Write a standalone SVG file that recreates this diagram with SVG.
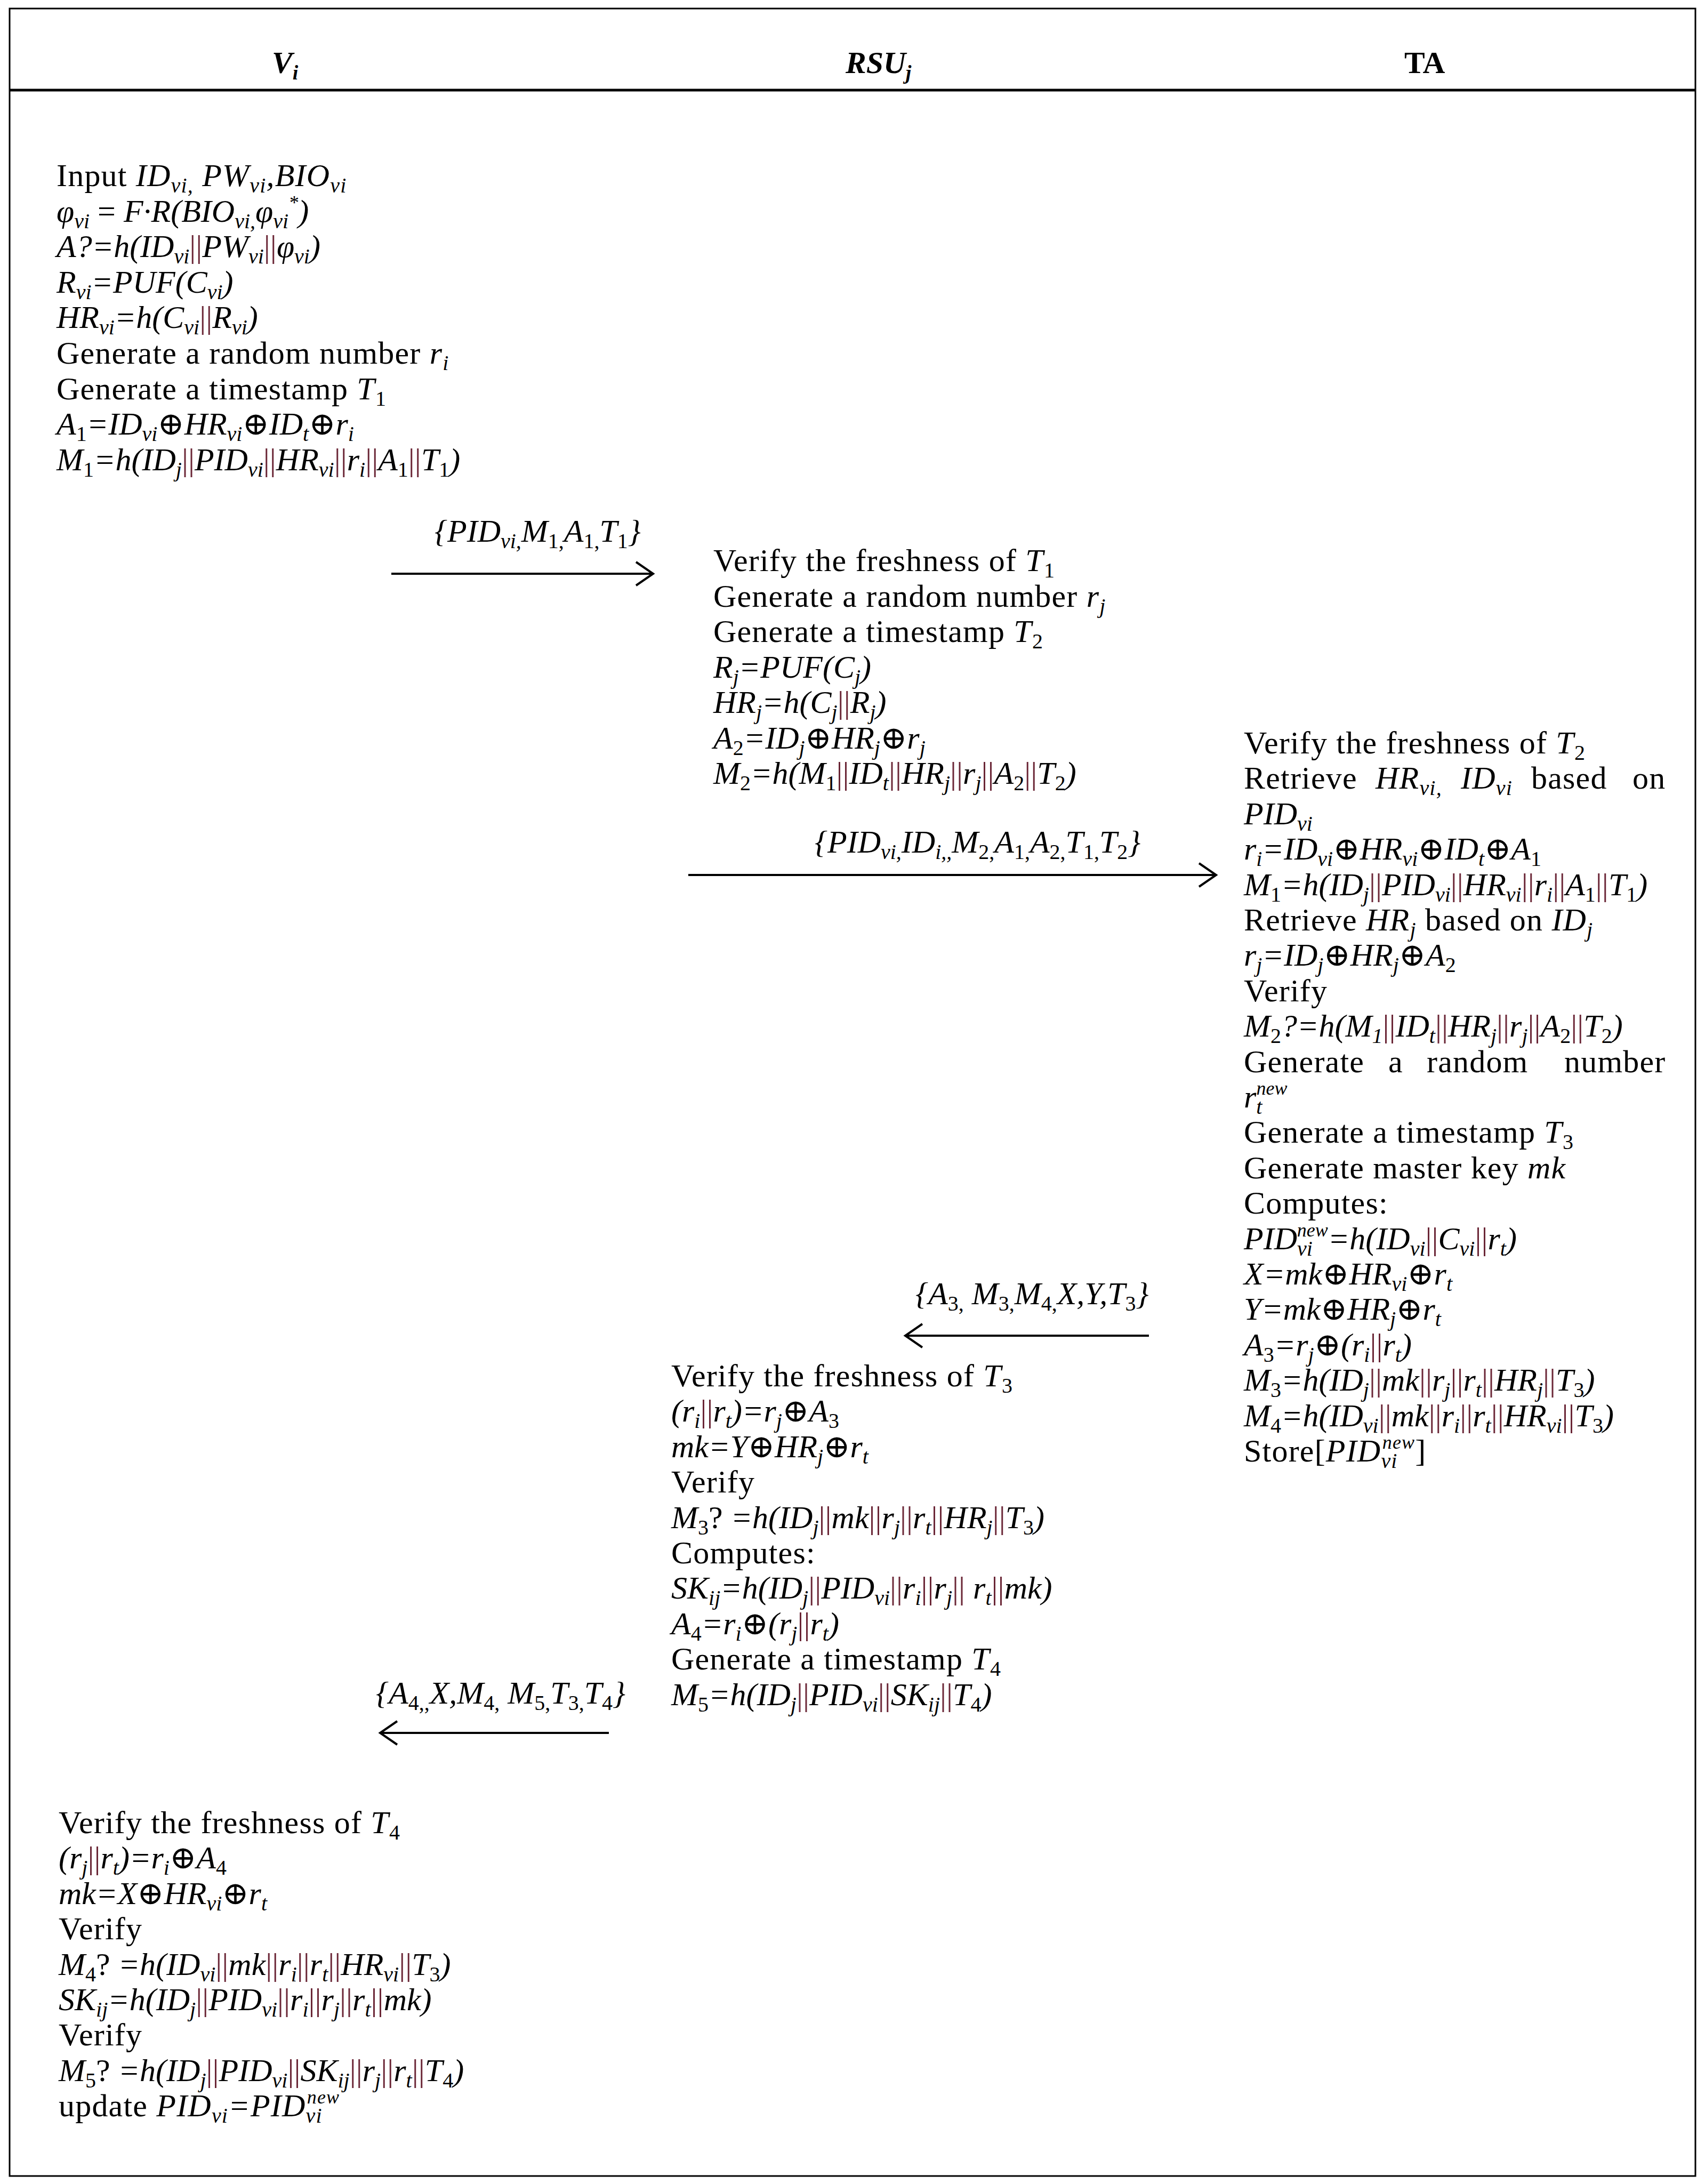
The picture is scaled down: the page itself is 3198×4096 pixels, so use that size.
<svg xmlns="http://www.w3.org/2000/svg" width="3198" height="4096" viewBox="0 0 3198 4096">
<style>
text { font-family: "Liberation Serif","DejaVu Serif",serif; font-size: 60px; fill: #000; letter-spacing: 1.2px; }
text.i { letter-spacing: 0; }
.i { font-style: italic; }
.s { font-size: 40px; font-style: italic; baseline-shift: -12px; }
.n { font-size: 40px; font-style: normal; baseline-shift: -12px; }
.p { font-size: 36px; font-style: italic; baseline-shift: 24px; }
.b { fill: #6b2737; font-style: normal; }
.o { font-style: normal; }
.h { font-size: 58px; font-weight: bold; letter-spacing: 0; }
.frame { fill: none; stroke: #000; stroke-width: 3; }
.hline { stroke: #000; stroke-width: 5; }
.arrow { stroke: #000; stroke-width: 4; fill: none; marker-end: url(#chev); }
</style>
<defs>
<marker id="chev" markerUnits="userSpaceOnUse" markerWidth="40" markerHeight="52" refX="34" refY="26" orient="auto">
<path d="M2,4 L34,26 L2,48" fill="none" stroke="#000" stroke-width="4"/>
</marker>
</defs>
<rect width="3198" height="4096" fill="#fff"/>

<g id="frame">
<rect class="frame" x="18" y="16" width="3162" height="4065"/>
<line class="hline" x1="18" y1="169" x2="3180" y2="169"/>
</g>

<g id="header">
<text class="h i" x="510" y="137">V<tspan class="s" style="font-size:38px;font-weight:bold">i</tspan></text>
<text class="h i" x="1586" y="137">RSU<tspan class="s" style="font-size:38px;font-weight:bold">j</tspan></text>
<text class="h" x="2634" y="137">TA</text>
</g>

<g id="node-vi-1">
<text x="106" y="349">Input <tspan class="i">ID</tspan><tspan class="s">vi,</tspan> <tspan class="i">PW</tspan><tspan class="s">vi</tspan><tspan class="i">,BIO</tspan><tspan class="s">vi</tspan></text>
<text class="i" x="106" y="416">φ<tspan class="s">vi</tspan><tspan class="o"> = </tspan>F·R(BIO<tspan class="s">vi,</tspan>φ<tspan class="s">vi</tspan><tspan class="p">*</tspan>)</text>
<text class="i" x="106" y="482">A?=h(ID<tspan class="s">vi</tspan><tspan class="b">||</tspan>PW<tspan class="s">vi</tspan><tspan class="b">||</tspan>φ<tspan class="s">vi</tspan>)</text>
<text class="i" x="106" y="549">R<tspan class="s">vi</tspan>=PUF(C<tspan class="s">vi</tspan>)</text>
<text class="i" x="106" y="615">HR<tspan class="s">vi</tspan>=h(C<tspan class="s">vi</tspan><tspan class="b">||</tspan>R<tspan class="s">vi</tspan>)</text>
<text x="106" y="682">Generate a random number <tspan class="i">r</tspan><tspan class="s">i</tspan></text>
<text x="106" y="749">Generate a timestamp <tspan class="i">T</tspan><tspan class="n">1</tspan></text>
<text class="i" x="106" y="815">A<tspan class="n">1</tspan>=ID<tspan class="s">vi</tspan><tspan class="o">⊕</tspan>HR<tspan class="s">vi</tspan><tspan class="o">⊕</tspan>ID<tspan class="s">t</tspan><tspan class="o">⊕</tspan>r<tspan class="s">i</tspan></text>
<text class="i" x="106" y="882">M<tspan class="n">1</tspan>=h(ID<tspan class="s">j</tspan><tspan class="b">||</tspan>PID<tspan class="s">vi</tspan><tspan class="b">||</tspan>HR<tspan class="s">vi</tspan><tspan class="b">||</tspan>r<tspan class="s">i</tspan><tspan class="b">||</tspan>A<tspan class="n">1</tspan><tspan class="b">||</tspan>T<tspan class="n">1</tspan>)</text>
</g>

<g id="node-rsu-1">
<text x="1338" y="1071">Verify the freshness of <tspan class="i">T</tspan><tspan class="n">1</tspan></text>
<text x="1338" y="1138">Generate a random number <tspan class="i">r</tspan><tspan class="s">j</tspan></text>
<text x="1338" y="1204">Generate a timestamp <tspan class="i">T</tspan><tspan class="n">2</tspan></text>
<text class="i" x="1338" y="1271">R<tspan class="s">j</tspan>=PUF(C<tspan class="s">j</tspan>)</text>
<text class="i" x="1338" y="1337">HR<tspan class="s">j</tspan>=h(C<tspan class="s">j</tspan><tspan class="b">||</tspan>R<tspan class="s">j</tspan>)</text>
<text class="i" x="1338" y="1404">A<tspan class="n">2</tspan>=ID<tspan class="s">j</tspan><tspan class="o">⊕</tspan>HR<tspan class="s">j</tspan><tspan class="o">⊕</tspan>r<tspan class="s">j</tspan></text>
<text class="i" x="1338" y="1470">M<tspan class="n">2</tspan>=h(M<tspan class="n">1</tspan><tspan class="b">||</tspan>ID<tspan class="s">t</tspan><tspan class="b">||</tspan>HR<tspan class="s">j</tspan><tspan class="b">||</tspan>r<tspan class="s">j</tspan><tspan class="b">||</tspan>A<tspan class="n">2</tspan><tspan class="b">||</tspan>T<tspan class="n">2</tspan>)</text>
</g>

<g id="node-ta">
<text x="2333" y="1413">Verify the freshness of <tspan class="i">T</tspan><tspan class="n">2</tspan></text>
<text y="1479"><tspan x="2333">Retrieve</tspan><tspan class="i" x="2580">HR</tspan><tspan class="s">vi,</tspan><tspan class="i" x="2740">ID</tspan><tspan class="s">vi</tspan><tspan x="2872">based</tspan><tspan x="3062">on</tspan></text>
<text class="i" x="2333" y="1546">PID<tspan class="s">vi</tspan></text>
<text class="i" x="2333" y="1612">r<tspan class="s">i</tspan>=ID<tspan class="s">vi</tspan><tspan class="o">⊕</tspan>HR<tspan class="s">vi</tspan><tspan class="o">⊕</tspan>ID<tspan class="s">t</tspan><tspan class="o">⊕</tspan>A<tspan class="n">1</tspan></text>
<text class="i" x="2333" y="1679">M<tspan class="n">1</tspan>=h(ID<tspan class="s">j</tspan><tspan class="b">||</tspan>PID<tspan class="s">vi</tspan><tspan class="b">||</tspan>HR<tspan class="s">vi</tspan><tspan class="b">||</tspan>r<tspan class="s">i</tspan><tspan class="b">||</tspan>A<tspan class="n">1</tspan><tspan class="b">||</tspan>T<tspan class="n">1</tspan>)</text>
<text x="2333" y="1745">Retrieve <tspan class="i">HR</tspan><tspan class="s">j</tspan> based on <tspan class="i">ID</tspan><tspan class="s">j</tspan></text>
<text class="i" x="2333" y="1811">r<tspan class="s">j</tspan>=ID<tspan class="s">j</tspan><tspan class="o">⊕</tspan>HR<tspan class="s">j</tspan><tspan class="o">⊕</tspan>A<tspan class="n">2</tspan></text>
<text x="2333" y="1878">Verify</text>
<text class="i" x="2333" y="1944">M<tspan class="n">2</tspan>?=h(M<tspan class="s">1</tspan><tspan class="b">||</tspan>ID<tspan class="s">t</tspan><tspan class="b">||</tspan>HR<tspan class="s">j</tspan><tspan class="b">||</tspan>r<tspan class="s">j</tspan><tspan class="b">||</tspan>A<tspan class="n">2</tspan><tspan class="b">||</tspan>T<tspan class="n">2</tspan>)</text>
<text y="2011"><tspan x="2333">Generate</tspan><tspan x="2604">a</tspan><tspan x="2676">random</tspan><tspan x="2934">number</tspan></text>
<text class="i" x="2333" y="2077">r<tspan class="s">t</tspan><tspan class="p" dx="-11">new</tspan></text>
<text x="2333" y="2143">Generate a timestamp <tspan class="i">T</tspan><tspan class="n">3</tspan></text>
<text x="2333" y="2210">Generate master key <tspan class="i">mk</tspan></text>
<text x="2333" y="2276">Computes:</text>
<text class="i" x="2333" y="2343">PID<tspan class="s">vi</tspan><tspan class="p" dx="-29">new</tspan>=h(ID<tspan class="s">vi</tspan><tspan class="b">||</tspan>C<tspan class="s">vi</tspan><tspan class="b">||</tspan>r<tspan class="s">t</tspan>)</text>
<text class="i" x="2333" y="2409">X=mk<tspan class="o">⊕</tspan>HR<tspan class="s">vi</tspan><tspan class="o">⊕</tspan>r<tspan class="s">t</tspan></text>
<text class="i" x="2333" y="2475">Y=mk<tspan class="o">⊕</tspan>HR<tspan class="s">j</tspan><tspan class="o">⊕</tspan>r<tspan class="s">t</tspan></text>
<text class="i" x="2333" y="2542">A<tspan class="n">3</tspan>=r<tspan class="s">j</tspan><tspan class="o">⊕</tspan>(r<tspan class="s">i</tspan><tspan class="b">||</tspan>r<tspan class="s">t</tspan>)</text>
<text class="i" x="2333" y="2608">M<tspan class="n">3</tspan>=h(ID<tspan class="s">j</tspan><tspan class="b">||</tspan>mk<tspan class="b">||</tspan>r<tspan class="s">j</tspan><tspan class="b">||</tspan>r<tspan class="s">t</tspan><tspan class="b">||</tspan>HR<tspan class="s">j</tspan><tspan class="b">||</tspan>T<tspan class="n">3</tspan>)</text>
<text class="i" x="2333" y="2675">M<tspan class="n">4</tspan>=h(ID<tspan class="s">vi</tspan><tspan class="b">||</tspan>mk<tspan class="b">||</tspan>r<tspan class="s">i</tspan><tspan class="b">||</tspan>r<tspan class="s">t</tspan><tspan class="b">||</tspan>HR<tspan class="s">vi</tspan><tspan class="b">||</tspan>T<tspan class="n">3</tspan>)</text>
<text x="2333" y="2741">Store[<tspan class="i">PID</tspan><tspan class="s">vi</tspan><tspan class="p" dx="-29">new</tspan>]</text>
</g>

<g id="node-rsu-2">
<text x="1259" y="2600">Verify the freshness of <tspan class="i">T</tspan><tspan class="n">3</tspan></text>
<text class="i" x="1259" y="2666">(r<tspan class="s">i</tspan><tspan class="b">||</tspan>r<tspan class="s">t</tspan>)=r<tspan class="s">j</tspan><tspan class="o">⊕</tspan>A<tspan class="n">3</tspan></text>
<text class="i" x="1259" y="2733">mk=Y<tspan class="o">⊕</tspan>HR<tspan class="s">j</tspan><tspan class="o">⊕</tspan>r<tspan class="s">t</tspan></text>
<text x="1259" y="2799">Verify</text>
<text class="i" x="1259" y="2866">M<tspan class="n">3</tspan><tspan class="o">? </tspan>=h(ID<tspan class="s">j</tspan><tspan class="b">||</tspan>mk<tspan class="b">||</tspan>r<tspan class="s">j</tspan><tspan class="b">||</tspan>r<tspan class="s">t</tspan><tspan class="b">||</tspan>HR<tspan class="s">j</tspan><tspan class="b">||</tspan>T<tspan class="n">3</tspan>)</text>
<text x="1259" y="2932">Computes:</text>
<text class="i" x="1259" y="2998">SK<tspan class="s">ij</tspan>=h(ID<tspan class="s">j</tspan><tspan class="b">||</tspan>PID<tspan class="s">vi</tspan><tspan class="b">||</tspan>r<tspan class="s">i</tspan><tspan class="b">||</tspan>r<tspan class="s">j</tspan><tspan class="b">||</tspan> r<tspan class="s">t</tspan><tspan class="b">||</tspan>mk)</text>
<text class="i" x="1259" y="3065">A<tspan class="n">4</tspan>=r<tspan class="s">i</tspan><tspan class="o">⊕</tspan>(r<tspan class="s">j</tspan><tspan class="b">||</tspan>r<tspan class="s">t</tspan>)</text>
<text x="1259" y="3131">Generate a timestamp <tspan class="i">T</tspan><tspan class="n">4</tspan></text>
<text class="i" x="1259" y="3198">M<tspan class="n">5</tspan>=h(ID<tspan class="s">j</tspan><tspan class="b">||</tspan>PID<tspan class="s">vi</tspan><tspan class="b">||</tspan>SK<tspan class="s">ij</tspan><tspan class="b">||</tspan>T<tspan class="n">4</tspan>)</text>
</g>

<g id="node-vi-2">
<text x="110" y="3438">Verify the freshness of <tspan class="i">T</tspan><tspan class="n">4</tspan></text>
<text class="i" x="110" y="3504">(r<tspan class="s">j</tspan><tspan class="b">||</tspan>r<tspan class="s">t</tspan>)=r<tspan class="s">i</tspan><tspan class="o">⊕</tspan>A<tspan class="n">4</tspan></text>
<text class="i" x="110" y="3571">mk=X<tspan class="o">⊕</tspan>HR<tspan class="s">vi</tspan><tspan class="o">⊕</tspan>r<tspan class="s">t</tspan></text>
<text x="110" y="3637">Verify</text>
<text class="i" x="110" y="3704">M<tspan class="n">4</tspan><tspan class="o">? </tspan>=h(ID<tspan class="s">vi</tspan><tspan class="b">||</tspan>mk<tspan class="b">||</tspan>r<tspan class="s">i</tspan><tspan class="b">||</tspan>r<tspan class="s">t</tspan><tspan class="b">||</tspan>HR<tspan class="s">vi</tspan><tspan class="b">||</tspan>T<tspan class="n">3</tspan>)</text>
<text class="i" x="110" y="3770">SK<tspan class="s">ij</tspan>=h(ID<tspan class="s">j</tspan><tspan class="b">||</tspan>PID<tspan class="s">vi</tspan><tspan class="b">||</tspan>r<tspan class="s">i</tspan><tspan class="b">||</tspan>r<tspan class="s">j</tspan><tspan class="b">||</tspan>r<tspan class="s">t</tspan><tspan class="b">||</tspan>mk)</text>
<text x="110" y="3836">Verify</text>
<text class="i" x="110" y="3903">M<tspan class="n">5</tspan><tspan class="o">? </tspan>=h(ID<tspan class="s">j</tspan><tspan class="b">||</tspan>PID<tspan class="s">vi</tspan><tspan class="b">||</tspan>SK<tspan class="s">ij</tspan><tspan class="b">||</tspan>r<tspan class="s">j</tspan><tspan class="b">||</tspan>r<tspan class="s">t</tspan><tspan class="b">||</tspan>T<tspan class="n">4</tspan>)</text>
<text x="110" y="3969">update <tspan class="i">PID</tspan><tspan class="s">vi</tspan><tspan class="i">=PID</tspan><tspan class="s">vi</tspan><tspan class="p" dx="-29">new</tspan></text>
</g>

<g id="connectors">
<g id="msg-1">
<line class="arrow" x1="734" y1="1076" x2="1225" y2="1076"/>
<text class="i" x="815" y="1016">{PID<tspan class="s">vi,</tspan>M<tspan class="n">1,</tspan>A<tspan class="n">1,</tspan>T<tspan class="n">1</tspan>}</text>
</g>
<g id="msg-2">
<line class="arrow" x1="1291" y1="1641" x2="2281" y2="1641"/>
<text class="i" x="1528" y="1599">{PID<tspan class="s">vi,</tspan>ID<tspan class="s">i,,</tspan>M<tspan class="n">2,</tspan>A<tspan class="n">1,</tspan>A<tspan class="n">2,</tspan>T<tspan class="n">1,</tspan>T<tspan class="n">2</tspan>}</text>
</g>
<g id="msg-3">
<line class="arrow" x1="2155" y1="2505" x2="1698" y2="2505"/>
<text class="i" x="1717" y="2446">{A<tspan class="n">3,</tspan> M<tspan class="n">3,</tspan>M<tspan class="n">4,</tspan>X,Y,T<tspan class="n">3</tspan>}</text>
</g>
<g id="msg-4">
<line class="arrow" x1="1142" y1="3250" x2="713" y2="3250"/>
<text class="i" x="705" y="3195">{A<tspan class="n">4,,</tspan>X,M<tspan class="n">4,</tspan> M<tspan class="n">5,</tspan>T<tspan class="n">3,</tspan>T<tspan class="n">4</tspan>}</text>
</g>
</g>
</svg>
